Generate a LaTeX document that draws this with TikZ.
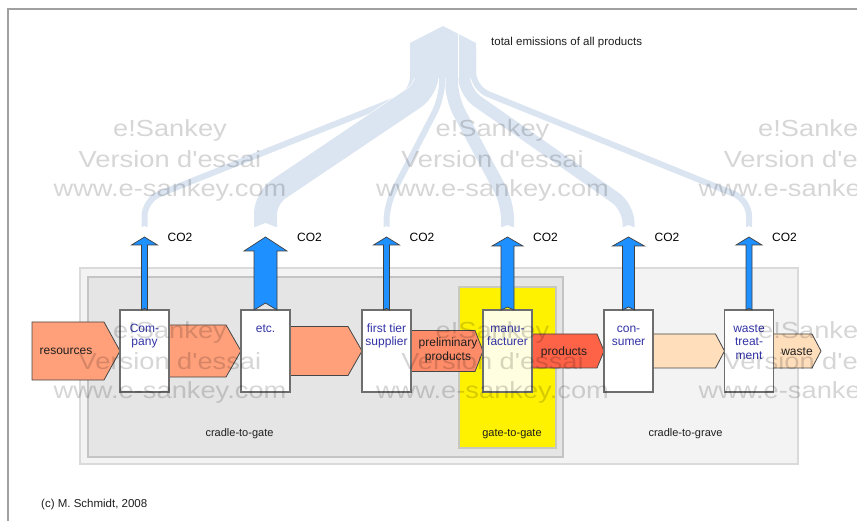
\documentclass[tikz,border=0pt]{standalone}
\usepackage{fontspec}
\setmainfont{Liberation Sans}
\newfontfamily\wmfont[FakeStretch=1.17]{Liberation Sans}
\usetikzlibrary{calc}
\definecolor{lb}{RGB}{219,229,241}
\definecolor{co2blue}{RGB}{30,144,255}
\definecolor{salm}{RGB}{255,160,122}
\definecolor{prelim}{RGB}{255,140,105}
\definecolor{prod}{RGB}{255,99,71}
\definecolor{peach}{RGB}{255,222,188}
\definecolor{outerfill}{RGB}{243,243,243}
\definecolor{outerline}{RGB}{218,218,218}
\definecolor{innerfill}{RGB}{229,229,229}
\definecolor{innerline}{RGB}{196,196,196}
\definecolor{yellowline}{RGB}{200,200,190}
\definecolor{manufill}{RGB}{255,254,224}
\definecolor{boxline}{RGB}{110,110,110}
\definecolor{boxtext}{RGB}{50,50,165}
\definecolor{frameline}{RGB}{160,160,160}
\definecolor{flowline}{RGB}{70,70,70}
\definecolor{lbltext}{RGB}{30,30,30}
\pgfdeclarelayer{bg}
\pgfdeclarelayer{flows}
\pgfdeclarelayer{top}
\pgfsetlayers{bg,flows,main,top}
% #1 node, #2 half shaft, #3 half head, #4 head height, #5 notch depth
\newcommand\CoTwoArrow[5]{%
  \draw[co2arrow] ($(#1.north)+(-#2,0)$) -- ($(#1.north)+(-#2,-73+#4)$)
    -- ($(#1.north)+(-#3,-73+#4)$) -- ($(#1.north)+(0,-73)$)
    -- ($(#1.north)+(#3,-73+#4)$) -- ($(#1.north)+(#2,-73+#4)$)
    -- ($(#1.north)+(#2,0)$) -- ($(#1.north)+(0,-#5)$) -- cycle;
  \node[co2lbl] (#1-co2) at ($(#1.north)+(#3+10,-73)$) {CO2};}
% #1 from, #2 to, #3 half height, #4 point length, #5 colour
\newcommand\FlowArrow[5]{%
  \path[flowshape, fill=#5] ($(#1)+(0,-#3)$) -- ($(#2)+(-#4,-#3)$) -- (#2)
    -- ($(#2)+(-#4,#3)$) -- ($(#1)+(0,#3)$) -- cycle;}
\begin{document}
\begin{tikzpicture}[x=1pt,y=-1pt,
  procbox/.style={draw=boxline, line width=1.1pt, fill=white, minimum width=49pt, minimum height=82pt, inner sep=0pt, outer sep=0pt},
  boxtxt/.style={anchor=north, inner sep=0pt, align=center, text=boxtext, font=\fontsize{12}{13.5}\selectfont},
  flowshape/.style={draw=flowline, line width=0.8pt, line join=miter},
  flowlbl/.style={inner sep=0pt, align=center, text=lbltext, font=\fontsize{12}{13.5}\selectfont},
  smalllbl/.style={inner sep=0pt, text=lbltext, font=\fontsize{11}{13}\selectfont},
  co2arrow/.style={fill=co2blue, draw=black!75, line width=0.7pt, line join=miter},
  co2lbl/.style={anchor=west, inner sep=0pt, text=black, font=\fontsize{12}{14}\selectfont},
  branch/.style={draw=white, line width=0.6pt, double=lb, rounded corners=16pt},
  wm/.style={anchor=base, inner sep=0pt, text=black, text opacity=0.16, font=\wmfont\fontsize{23.3}{28}\selectfont}
]
\useasboundingbox (0,0) rectangle (857,521);

\begin{pgfonlayer}{bg}
  \draw[frameline, line width=1.2pt] (8,521) -- (8,9) -- (857,9);
  \filldraw[fill=outerfill, draw=outerline, line width=2pt] (80,268) rectangle (798,464);
  \filldraw[fill=innerfill, draw=innerline, line width=1.5pt] (88,277) rectangle (563,457);
  \filldraw[fill=yellow, draw=yellowline, line width=1.2pt] (459,287) rectangle (556,448);
  % light blue emission tree
  \draw[branch, double distance=6pt]  (413,50)   -- (413,93)   -- (144.5,200) -- (144.5,227);
  \draw[branch, double distance=23pt] (427.5,50) -- (427.5,89) -- (265.5,198) -- (265.5,227);
  \draw[branch, double distance=6pt]  (473,50)   -- (473,88)   -- (749,200)   -- (749,227);
  \draw[branch, double distance=12pt] (464,50)   -- (464,92)   -- (628.5,207) -- (628.5,227);
  \draw[branch, double distance=13pt] (451.5,50) -- (451.5,98) -- (507.5,203) -- (507.5,227);
  \draw[branch, double distance=6pt]  (442,50)   -- (442,98)   -- (386.5,205) -- (386.5,227);
  \fill[lb] (410,78) -- (410,43) -- (443,26) -- (476,43) -- (476,78) -- cycle;
  \draw[white, line width=0.6pt] (458,34) -- (458,78);
  \fill[white] (141.5,227.6) -- (144.5,226) -- (147.5,227.6) -- cycle;
  \fill[white] (254,227.6) -- (265.5,223) -- (277,227.6) -- cycle;
  \fill[white] (383.5,227.6) -- (386.5,226) -- (389.5,227.6) -- cycle;
  \fill[white] (501,227.6) -- (507.5,225) -- (514,227.6) -- cycle;
  \fill[white] (622.5,227.6) -- (628.5,225) -- (634.5,227.6) -- cycle;
  \fill[white] (746,227.6) -- (749,226) -- (752,227.6) -- cycle;
\end{pgfonlayer}

% process boxes
\node[procbox] (co) at (144.5,351) {};
\node[procbox] (etc) at (265.5,351) {};
\node[procbox] (ft) at (386.5,351) {};
\node[procbox, fill=manufill] (mf) at (507.5,351) {};
\node[procbox] (cs) at (628.5,351) {};
\node[procbox] (wt) at (749,351) {};
\coordinate (src) at (32,351);
\coordinate (sink) at (821,351);

\begin{pgfonlayer}{flows}
  \FlowArrow{src}{co.west}{29}{16}{salm}
  \FlowArrow{co.east}{etc.west}{26}{15}{salm}
  \FlowArrow{etc.east}{ft.west}{24.5}{14}{salm}
  \FlowArrow{ft.east}{mf.west}{20.5}{8}{prelim}
  \FlowArrow{mf.east}{cs.west}{17}{7}{prod}
  \FlowArrow{cs.east}{wt.west}{17}{9}{peach}
  \FlowArrow{wt.east}{sink}{17}{9}{peach}
\end{pgfonlayer}

% CO2 arrows
\CoTwoArrow{co}{3}{13}{8}{1.5}
\CoTwoArrow{etc}{11.5}{21.5}{14}{7}
\CoTwoArrow{ft}{3}{13}{8}{1.5}
\CoTwoArrow{mf}{6.5}{15.5}{9}{3}
\CoTwoArrow{cs}{6}{16}{9}{3}
\CoTwoArrow{wt}{3}{13}{8}{1.5}

% box texts
\node[boxtxt] (tco) at ($(co.north)+(0,12.5)$) {\strut Com-\\pany};
\node[boxtxt] (tetc) at ($(etc.north)+(0,12.5)$) {\strut etc.};
\node[boxtxt] (tft) at ($(ft.north)+(0,12.5)$) {\strut first tier\\supplier};
\node[boxtxt] (tmf) at ($(mf.north)+(0,12.5)$) {\strut manu-\\facturer};
\node[boxtxt] (tcs) at ($(cs.north)+(0,12.5)$) {\strut con-\\sumer};
\node[boxtxt] (twt) at ($(wt.north)+(0,12.5)$) {\strut waste\\treat-\\ment};

% flow labels
\node[flowlbl] (lres) at (66,351) {resources};
\node[flowlbl] (lpre) at (448,350.5) {preliminary\\products};
\node[flowlbl] (lprod) at (564,352) {products};
\node[flowlbl] (lwaste) at (797,352) {waste};

% region and other labels
\node[smalllbl] (lcg) at (239.5,434) {cradle-to-gate};
\node[smalllbl] (lgg) at (512,434) {gate-to-gate};
\node[smalllbl] (lcgr) at (685.5,434) {cradle-to-grave};
\node[smalllbl, anchor=west, font=\fontsize{11.5}{13}\selectfont] (ltot) at (491,43) {total emissions of all products};
\node[smalllbl, anchor=west, font=\fontsize{11.5}{13}\selectfont] (lcopy) at (41,505) {(c) M. Schmidt, 2008};

% watermark
\begin{pgfonlayer}{top}
  \foreach \gx [count=\gi] in {170,492.5,815} {
    \foreach \gy [count=\gj] in {0,202} {
      \node[wm] (wm-\gi-\gj-a) at (\gx,137+\gy) {e!Sankey};
      \node[wm] (wm-\gi-\gj-b) at (\gx,167.5+\gy) {Version d'essai};
      \node[wm] (wm-\gi-\gj-c) at (\gx,197+\gy) {www.e-sankey.com};
    }
  }
\end{pgfonlayer}
\end{tikzpicture}
\end{document}
